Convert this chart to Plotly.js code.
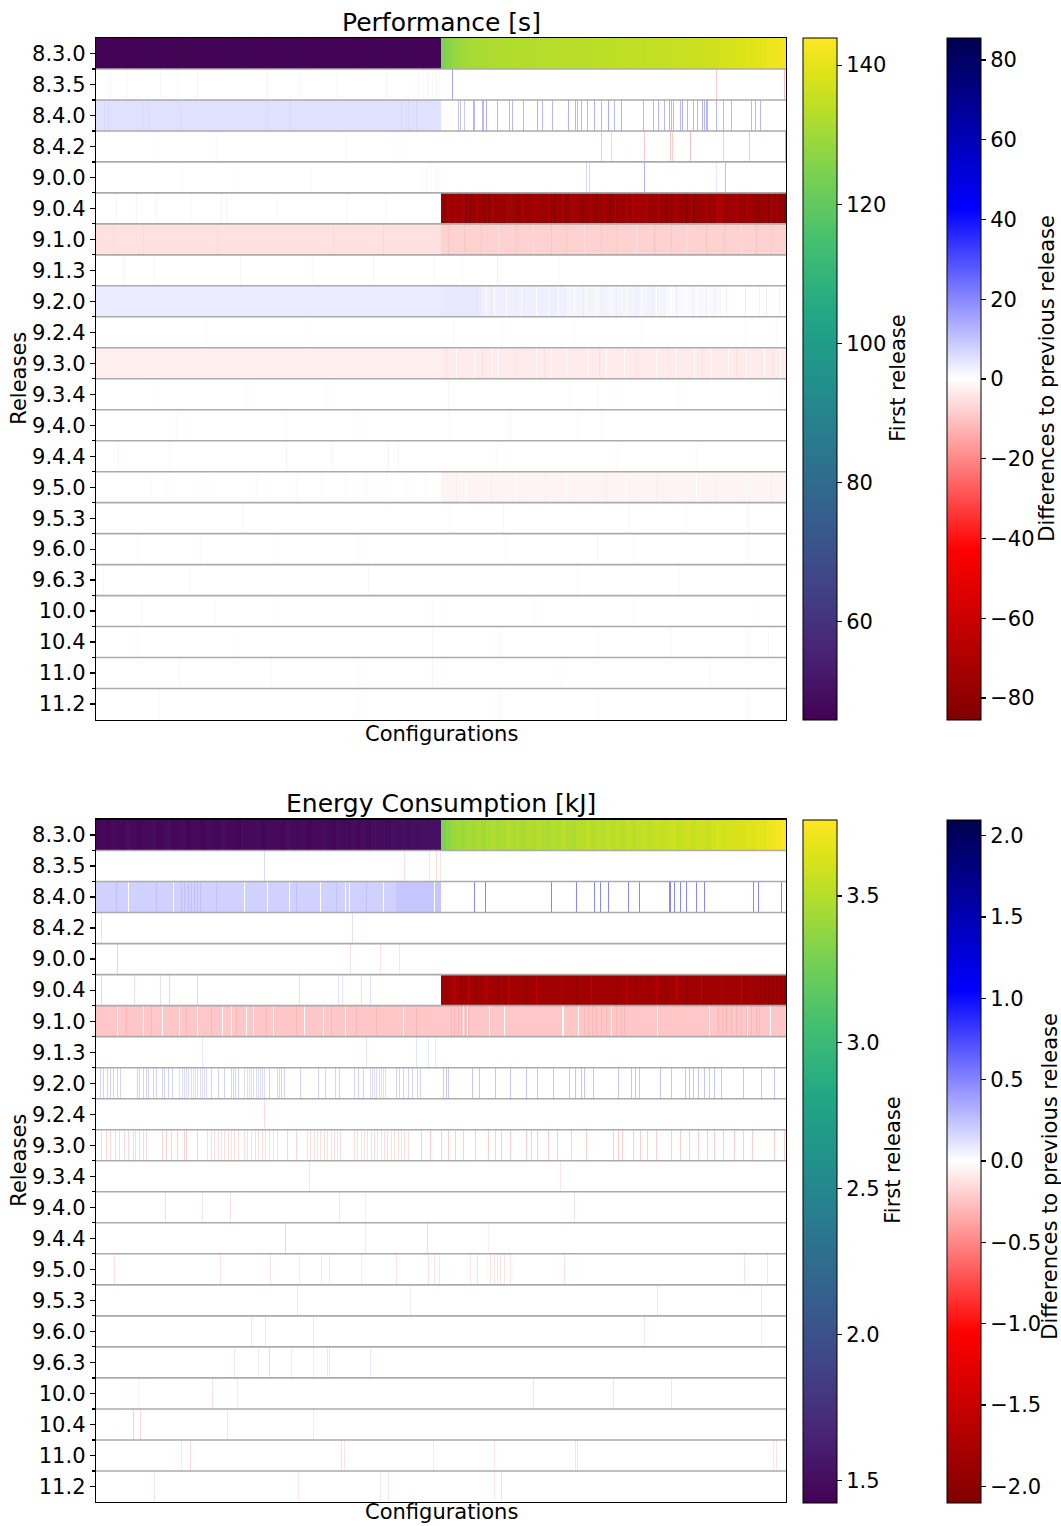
<!DOCTYPE html>
<html>
<head>
<meta charset="utf-8">
<script src="https://cdn.plot.ly/plotly-3.0.1.min.js"></script>
<style>
  html, body { margin: 0; padding: 0; background: #ffffff; }
  #chart { width: 1061px; height: 1526px; }
</style>
</head>
<body>
<div id="chart"></div>
<script>
// Releases, top to bottom
const releases = ['8.3.0','8.3.5','8.4.0','8.4.2','9.0.0','9.0.4','9.1.0','9.1.3','9.2.0','9.2.4',
  '9.3.0','9.3.4','9.4.0','9.4.4','9.5.0','9.5.3','9.6.0','9.6.3','10.0','10.4','11.0','11.2'];

const nConfigs = 690;      // configurations on the x axis
const groupSize = 5;       // first-release row: one value per group of configurations

// First release: performance [s], left and right halves of the configurations
const perfFirstLeft = [46.6,46.4,46.7,46.5,46.6,46.8,46.5,46.6,46.4,46.7,
  46.6,46.5,46.8,46.6,46.5,46.7,46.6,46.4,46.6,46.7,
  46.5,46.6,46.8,46.6,46.5,46.7,46.6,46.5,46.6,46.8,
  46.6,46.5,46.7,46.6,46.4,46.6,46.7,46.5,46.6,46.8,
  46.6,46.5,46.7,46.6,46.5,46.6,46.8,46.6,46.5,46.7,
  46.6,46.4,46.6,46.7,46.5,46.6,46.8,46.6,46.5,46.7,
  46.6,46.5,46.7,46.6,46.8,46.6,46.5,46.7,46.6];
const perfFirstRight = [124.5,126.5,128.0,129.0,129.8,130.3,130.7,131.0,131.3,131.6,
  131.8,132.0,132.1,132.2,132.3,132.4,132.5,132.6,132.7,132.8,
  132.9,133.0,133.1,133.2,133.3,133.4,133.5,133.5,133.6,133.7,
  133.8,133.9,134.0,134.0,134.1,134.2,134.3,134.4,134.5,134.6,
  134.7,134.8,134.9,135.0,135.1,135.3,135.4,135.5,135.7,135.8,
  136.0,136.1,136.3,136.4,136.6,137.0,137.3,137.6,137.9,138.3,
  138.6,139.0,139.4,139.9,140.4,140.9,141.5,142.0,142.6];

// First release: energy consumption [kJ]
const energyFirstLeft = [1.46,1.48,1.45,1.49,1.47,1.46,1.50,1.47,1.45,1.48,
  1.47,1.49,1.46,1.48,1.50,1.46,1.47,1.49,1.45,1.48,
  1.47,1.46,1.49,1.48,1.46,1.50,1.47,1.48,1.46,1.49,
  1.47,1.48,1.50,1.46,1.49,1.47,1.48,1.46,1.50,1.48,
  1.47,1.49,1.46,1.48,1.47,1.50,1.48,1.46,1.49,1.47,
  1.48,1.50,1.47,1.49,1.48,1.51,1.49,1.50,1.48,1.51,
  1.50,1.52,1.49,1.51,1.50,1.52,1.51,1.53,1.52];
const energyFirstRight = [3.30,3.36,3.40,3.43,3.41,3.45,3.44,3.47,3.43,3.46,
  3.48,3.45,3.47,3.50,3.46,3.48,3.45,3.49,3.47,3.51,
  3.48,3.46,3.50,3.48,3.52,3.49,3.47,3.51,3.50,3.53,
  3.49,3.52,3.50,3.54,3.51,3.53,3.50,3.55,3.52,3.54,
  3.56,3.53,3.55,3.57,3.54,3.56,3.58,3.55,3.57,3.59,
  3.56,3.58,3.60,3.57,3.59,3.61,3.60,3.62,3.61,3.63,
  3.62,3.65,3.64,3.67,3.66,3.69,3.71,3.74,3.76];

// Differences to previous release (releases 8.3.5 .. 11.2).
// Bands: [firstConfig, endConfig (exclusive), value]; later bands override earlier ones.
// Lines: [config, value] for single configurations.
const perfBands = [
  [],
  [[0,345,5.2]],
  [],
  [],
  [[345,690,-76]],
  [[0,345,-5.0],[345,690,-7.6]],
  [],
  [[0,345,3.3],[345,385,3.8],[385,470,2.6],[470,570,1.8],[570,625,1.0]],
  [],
  [[0,345,-2.6],[345,690,-3.4]],
  [], [], [],
  [[345,690,-1.8]],
  [], [], [], [], [], [], []
];
const perfLines = [
  [[14,1.5],[31,1.2],[64,1.5],[81,1.2],[101,1.5],[171,1.8],[204,1.2],[240,1.2],[290,1.5],
   [322,-1.5],[327,-1.5],[331,-1.8],[336,-1.5],[340,-1.8],[343,-1.5],[356,15],[620,-9],[688,-12]],
  [[8,6.5],[12,6.3],[46,6.5],[52,6.3],[84,6.4],[171,6.5],[194,6.3],[305,6.5],[312,6.4],[320,6.5],
   [362,10],[364,10],[368,9],[377,12],[378,12],[386,12],[387,12],[390,13],[401,12],[413,12],[416,12],[427,12],
   [441,13],[446,12],[456,12],[472,13],[479,12],[481,12],[485,12],[491,12],[498,13],[505,12],[512,14],[518,12],
   [525,13],[547,12],[557,12],[562,12],[568,12],[573,13],[575,12],[577,12],[584,12],[586,13],[591,12],[597,12],
   [601,12],[606,13],[608,12],[610,12],[611,13],[620,12],[627,12],[635,12],[655,12],[659,12],[664,12]],
  [[60,1],[120,-1],[250,1.2],[300,-1],[505,-10],[515,-8],[548,-9],[574,-10],[576,-8],[594,-11],[627,-9],[653,-10],[689,12]],
  [[85,-1],[140,1],[215,-1.2],[326,-1.2],[331,-1.5],[335,-1.2],[339,-1.5],[342,-1.2],
   [490,7],[493,-8],[548,13],[620,4],[629,11]],
  [[20,1.5],[40,1.8],[60,1.5],[95,1.2],[125,1.8],[130,1.5],[180,1.2],[250,1.5],[290,1.2],
   [352,-70],[358,-70],[366,-70],[380,-70],[396,-70],[411,-69],[413,-70],[415,-69],[417,-70],[426,-70],
   [438,-70],[452,-70],[466,-70],[475,-69],[477,-70],[479,-69],[481,-70],[495,-70],[508,-70],[519,-70],
   [530,-70],[536,-69],[539,-70],[542,-69],[545,-70],[548,-69],[551,-70],[562,-70],[580,-70],[595,-70],
   [610,-70],[620,-69],[622,-70],[624,-69],[626,-70],[640,-70],[650,-70],[675,-70],
   [348,-83],[361,-83],[370,-84],[374,-83],[383,-84],[388,-83],[392,-84],[399,-83],[405,-83],[422,-83],
   [433,-84],[445,-83],[458,-83],[470,-84],[486,-83],[500,-83],[514,-84],[525,-83],[557,-83],[570,-84],
   [575,-83],[585,-84],[590,-83],[598,-84],[603,-83],[615,-83],[633,-84],[645,-83],[657,-84],[662,-83],
   [667,-85],[672,-83],[679,-84],[684,-83],[688,-84]],
  [[17,-6.5],[47,-6.5],[121,-6.8],[237,-6.5],[287,-6.8],[352,-10],[368,-9.5],[385,-10],[402,-5.5],[420,-9.8],
   [437,-5],[455,-10],[470,-9.5],[488,-5.5],[505,-10],[520,-9],[540,-5],[558,-10.5],[575,-9.5],[590,-5.5],
   [610,-10],[628,-9.5],[645,-5],[660,-10],[675,-9.5]],
  [[27,1.5],[58,1.2],[144,1.5],[216,1.2],[277,1.5],[338,1.2],[366,1.2],[401,-4],[463,-1.5]],
  [[390,0.5],[398,0.5],[410,0.3],[425,0.5],[440,0.4],[452,0.5],[462,0.3],[478,0.3],[490,0.2],[500,0.4],
   [515,0.3],[530,0.2],[545,0.3],[560,0.2],[575,0.2],[590,0.3],[600,0.2],[612,0.3],
   [380,4.5],[395,4],[420,3.5],[487,3.5],[505,3.2],[520,3],[540,3.2],[556,3],[580,2.8],[597,2.6],[610,3],
   [618,2.8],[630,2.5],[649,3.5],[663,2.5],[670,3],[683,2.5]],
  [[109,1],[211,1],[357,-1.5],[406,-1.5],[477,-1.2],[545,-1.5],[649,-1.2],[680,-1.5]],
  [[360,-0.5],[378,-0.8],[395,-0.5],[402,-0.3],[440,-0.6],[455,-0.5],[470,-0.7],[491,-0.4],[510,-0.5],
   [528,-0.4],[560,-0.6],[580,-0.5],[598,-0.3],[615,-0.6],[632,-0.4],[650,-0.5],[668,-0.3],[684,-0.5],
   [350,-5],[386,-5.5],[420,-4.8],[448,-5],[503,-5.2],[540,-5],[572,-4.8],[606,-5],[640,-5.2],[676,-4.8]],
  [[60,1],[150,-1],[230,1],[352,1.8],[473,-1.5],[501,-1.5],[516,-1.2],[582,-1.5],[686,-1.5]],
  [[80,-1],[190,1],[260,-1],[353,1.5],[414,1.5],[481,-1.5],[505,-1.8]],
  [[22,1.5],[73,1.5],[190,1.8],[236,1.5],[292,1.8],[302,1.5],[400,-1],[520,-1.2],[600,-1]],
  [[55,-1],[70,-1.2],[110,-1],[160,-1.2],[200,-1.5],[225,-1.2],[250,-1.5],[270,-1.2],[290,-1.5],[310,-1.2],
   [330,-1.5],[370,-0.3],[420,-0.5],[470,-0.3],[530,-0.4],[600,-0.3],[650,-0.4],
   [360,-3.2],[395,-3],[450,-3.2],[510,-3],[560,-3.2],[620,-3],[675,-3.2]],
  [[147,1.2],[353,1.2],[407,1.5],[532,1.2],[590,1.2],[652,1.5]],
  [[42,1],[104,1.2],[180,1],[262,1.2],[409,1],[501,1.5],[537,1.2],[652,-1.5]],
  [[7,1.5],[93,1.2],[272,1.5],[481,1.2],[583,1.2]],
  [[45,1.2],[119,-1],[180,1],[336,-1.2],[438,-1.5],[537,1.2],[659,-1]],
  [[40,-1.2],[139,1],[336,1.5],[404,-1.5],[501,-1.2],[575,-1.5],[652,1.2],[672,1]],
  [[83,-1.5],[175,-1.2],[262,-1.5],[336,-1.8],[466,-1.2],[613,-1.5]],
  [[63,1.2],[262,-1.2],[404,-1.5],[501,1],[652,1.2]]
];

const energyBands = [
  [],
  [[0,345,0.19],[300,345,0.24]],
  [],
  [],
  [[345,690,-1.82]],
  [[0,690,-0.23]],
  [], [], [], [], [], [], [], [], [], [], [], [], [], [], []
];
const energyLines = [
  [[168,0.15],[308,-0.12],[333,-0.12],[340,-0.15],[344,-0.12]],
  [[32,0],[77,0],[148,0],[171,0],[193,0],[224,0],[249,0],[253,0],[287,0],[338,0],
   [20,0.26],[60,0.26],[85,0.26],[88,0.25],[92,0.26],[95,0.25],[98,0.26],[101,0.25],[104,0.26],[120,0.25],
   [200,0.26],[240,0.25],[270,0.26],
   [378,0.5],[389,0.5],[455,0.5],[480,0.5],[498,0.5],[504,0.5],[512,0.5],[532,0.5],[543,0.5],[573,0.5],
   [574,0.5],[578,0.5],[584,0.5],[590,0.5],[600,0.5],[608,0.5],[657,0.5],[662,0.5],[685,0.5]],
  [[5,0.12],[256,0.12]],
  [[21,-0.2],[254,-0.12],[284,-0.12],[303,-0.12]],
  [[5,0.15],[38,0.12],[64,0.12],[73,0.15],[101,0.15],[203,0.12],[242,0.12],[246,0.1],[265,0.12],[274,0.12],
   [358,-1.62],[372,-1.62],[390,-1.62],[412,-1.62],[440,-1.62],[465,-1.62],[495,-1.62],[530,-1.62],[560,-1.62],
   [580,-1.62],[605,-1.62],[625,-1.62],[645,-1.62],
   [350,-1.97],[365,-1.97],[380,-1.97],[402,-1.97],[430,-1.97],[455,-1.97],[480,-1.97],[520,-1.97],[545,-1.97],
   [570,-1.97],[590,-1.97],[615,-1.97],[635,-1.97],[650,-1.97],[660,-1.97],[664,-1.97],[668,-1.97],[672,-1.97],
   [676,-1.97],[680,-1.97],[684,-1.97],[688,-1.97]],
  [[21,0],[47,0],[66,0],[83,0],[101,0],[126,0],[135,0],[150,0],[157,0],[177,0],[208,0],[227,0],[249,0],
   [307,0],[367,0],[371,0],[393,0],[408,0],[466,0],[467,0],[482,0],[515,0],[561,0],[613,0],[651,0],[674,0],
   [30,-0.3],[55,-0.3],[90,-0.3],[115,-0.3],[140,-0.3],[170,-0.3],[200,-0.3],[235,-0.3],[260,-0.3],[280,-0.3],
   [320,-0.3],[355,-0.3],[358,-0.3],[362,-0.3],[365,-0.3],[369,-0.3],[372,-0.3],[488,-0.3],[492,-0.3],
   [496,-0.3],[500,-0.3],[505,-0.3],[510,-0.3],[520,-0.3],[525,-0.3],[528,-0.3],[622,-0.3],[626,-0.3],
   [630,-0.3],[635,-0.3],[640,-0.3],[645,-0.3],[650,-0.3],[655,-0.3],[660,-0.3],[663,-0.3]],
  [[106,0.1],[270,0.1],[320,0.12],[332,0.1],[339,0.1]],
  [[4,0.18],[7,0.18],[11,0.18],[14,0.18],[17,0.18],[21,0.18],[24,0.18],[41,0.18],[43,0.18],[47,0.18],
   [50,0.18],[52,0.18],[57,0.18],[60,0.18],[66,0.18],[68,0.18],[72,0.18],[76,0.18],
   [83,0.14],[86,0.14],[88,0.14],[90,0.14],[92,0.14],[95,0.14],[97,0.14],[99,0.14],[101,0.14],[104,0.14],
   [106,0.14],[108,0.14],[110,0.14],[115,0.18],[122,0.18],[128,0.18],[135,0.18],[137,0.18],[139,0.18],[142,0.18],
   [148,0.14],[151,0.14],[153,0.14],[155,0.14],[157,0.14],[160,0.14],[162,0.14],[164,0.14],[166,0.14],[168,0.14],
   [173,0.18],[181,0.18],[183,0.18],[185,0.18],[188,0.18],[204,0.18],[222,0.18],[229,0.18],[239,0.18],[243,0.18],
   [258,0.18],[262,0.18],[267,0.18],
   [274,0.14],[276,0.14],[278,0.14],[280,0.14],[283,0.14],[285,0.14],[287,0.14],[289,0.14],
   [300,0.18],[303,0.18],[307,0.18],[312,0.18],[316,0.18],[321,0.18],[324,0.18],[347,0.22],[350,0.22],[352,0.22],
   [376,0.24],[383,0.24],[399,0.24],[414,0.24],[430,0.24],[441,0.24],[457,0.24],[473,0.24],[479,0.24],[485,0.24],
   [488,0.24],[497,0.24],[522,0.24],[535,0.24],[539,0.24],[543,0.24],[564,0.24],[575,0.24],[589,0.24],[593,0.24],
   [597,0.24],[602,0.24],[608,0.24],[613,0.24],[618,0.24],[625,0.24],[647,0.24],[665,0.24],[678,0.24]],
  [[168,-0.15]],
  [[5,-0.16],[10,-0.16],[14,-0.16],[19,-0.16],[23,-0.16],[28,-0.16],[32,-0.16],[37,-0.16],[39,-0.16],[43,-0.16],
   [47,-0.16],[50,-0.16],[66,-0.18],[70,-0.18],[75,-0.18],[81,-0.18],[88,-0.18],[90,-0.18],[101,-0.18],
   [111,-0.14],[115,-0.14],[118,-0.14],[122,-0.14],[125,-0.14],[128,-0.14],[132,-0.14],[135,-0.14],[138,-0.14],[142,-0.14],
   [148,-0.14],[151,-0.14],[155,-0.14],[159,-0.14],[162,-0.14],[166,-0.14],[169,-0.14],[173,-0.14],[177,-0.14],[181,-0.14],
   [191,-0.18],[200,-0.18],
   [211,-0.14],[214,-0.14],[218,-0.14],[221,-0.14],[224,-0.14],[228,-0.14],[231,-0.14],[235,-0.14],[238,-0.14],[241,-0.14],[244,-0.14],
   [258,-0.14],[261,-0.14],[265,-0.14],[268,-0.14],[271,-0.14],[275,-0.14],[278,-0.14],[281,-0.14],[285,-0.14],[288,-0.14],
   [291,-0.14],[295,-0.14],[298,-0.14],[302,-0.14],[305,-0.14],[308,-0.14],[312,-0.14],
   [325,-0.2],[334,-0.2],[345,-0.2],[352,-0.2],[359,-0.2],[367,-0.2],[379,-0.2],[392,-0.2],[399,-0.2],[405,-0.2],
   [414,-0.2],[430,-0.2],[435,-0.2],[441,-0.2],[452,-0.2],[461,-0.2],[475,-0.2],[490,-0.2],[517,-0.2],[522,-0.2],
   [526,-0.2],[537,-0.2],[544,-0.2],[551,-0.2],[560,-0.2],[575,-0.2],[584,-0.2],[593,-0.2],[602,-0.2],[611,-0.2],
   [618,-0.2],[627,-0.2],[638,-0.2],[647,-0.2],[656,-0.2],[678,-0.2],[688,-0.2]],
  [[213,0.1],[464,-0.1]],
  [[69,-0.15],[106,0.1],[134,-0.12],[243,-0.12],[269,-0.08],[478,0.1]],
  [[189,0.15],[269,0.08],[331,0.15],[392,-0.06]],
  [[18,-0.12],[124,-0.12],[174,-0.12],[203,-0.1],[225,-0.12],[233,-0.12],[265,-0.1],[300,-0.12],[332,-0.12],
   [338,-0.12],[343,-0.12],[374,-0.1],[381,-0.12],[394,-0.12],[398,-0.12],[401,-0.12],[404,-0.12],[408,-0.12],
   [414,-0.12],[468,-0.12],[648,-0.12],[671,-0.12]],
  [[201,-0.12],[314,0.08],[561,-0.12],[665,-0.12]],
  [[155,-0.12],[169,0.1],[217,-0.12],[548,0.1],[665,0.06]],
  [[138,0.1],[162,0.08],[173,0.12],[195,0.08],[217,0.08],[231,0.1],[233,0.1],[274,0.1]],
  [[42,-0.06],[116,-0.12],[141,-0.1],[437,-0.12],[517,0.1],[575,0.1]],
  [[37,0.15],[44,-0.15],[131,0.1],[217,-0.1]],
  [[85,-0.12],[94,-0.15],[245,-0.15],[248,-0.12],[337,-0.1],[398,-0.1],[479,-0.12],[481,-0.12],[677,-0.12],[680,-0.12]],
  [[58,0.1],[202,-0.1],[284,0.08],[292,0.1],[398,-0.1],[405,-0.12]]
];

// Colour scales
const viridis = [
  [0.0,'#440154'],[0.1,'#482475'],[0.2,'#414487'],[0.3,'#355f8d'],[0.4,'#2a788e'],[0.5,'#21918c'],
  [0.6,'#22a884'],[0.7,'#44bf70'],[0.8,'#7ad151'],[0.9,'#bddf26'],[0.95,'#dfe318'],[1.0,'#fde725']
];
const seismicReversed = [
  [0.0,'rgb(128,0,0)'],[0.25,'rgb(255,0,0)'],[0.5,'rgb(255,255,255)'],[0.75,'rgb(0,0,255)'],[1.0,'rgb(0,0,77)']
];

// Build the difference matrix for one panel (one row per release after the first)
function diffMatrix(bands, lines) {
  return bands.map((rowBands, i) => {
    const row = new Array(nConfigs).fill(0);
    rowBands.forEach(([a, b, v]) => { for (let c = a; c < b; c++) row[c] = v; });
    lines[i].forEach(([c, v]) => { row[c] = v; });
    return row;
  });
}

const groupEdges = Array.from({length: nConfigs / groupSize + 1}, (_, k) => k * groupSize);
const diffRows = releases.slice(1).map((_, i) => i + 1);

const FONT = 'DejaVu Sans, Verdana, sans-serif';
const W = 1061, H = 1526;
const px = v => v / W;
const py = v => 1 - v / H;

const xDomain = [px(96), px(786)];
const panels = [
  {top: 38, bottom: 719.5, title: 'Performance [s]', labelY: 734, diffLabelX: 1047, diffLabelShift: 0,
   first: perfFirstLeft.concat(perfFirstRight), diff: diffMatrix(perfBands, perfLines),
   vmin: 45.9, vmax: 143.9, vTicks: [60, 80, 100, 120, 140], vFormat: '',
   dmax: 85.5, dTicks: [-80, -60, -40, -20, 0, 20, 40, 60, 80], dFormat: ''},
  {top: 819.5, bottom: 1502, title: 'Energy Consumption [kJ]', labelY: 1512, diffLabelX: 1050, diffLabelShift: 16,
   first: energyFirstLeft.concat(energyFirstRight), diff: diffMatrix(energyBands, energyLines),
   vmin: 1.425, vmax: 3.762, vTicks: [1.5, 2.0, 2.5, 3.0, 3.5], vFormat: '.1f',
   dmax: 2.1, dTicks: [-2, -1.5, -1, -0.5, 0, 0.5, 1, 1.5, 2], dFormat: '.1f'}
];

const data = [];
const layout = {
  width: W, height: H,
  margin: {l: 0, r: 0, t: 0, b: 0, pad: 0, autoexpand: false},
  paper_bgcolor: '#ffffff', plot_bgcolor: '#ffffff',
  font: {family: FONT, size: 21, color: '#000000'},
  showlegend: false,
  annotations: [], shapes: []
};

const boundaries = releases.slice(1).map((_, i) => i + 0.5);

panels.forEach((p, k) => {
  const xa = k === 0 ? 'x' : 'x2';
  const ya = k === 0 ? 'y' : 'y2';
  const caFirst = k === 0 ? 'coloraxis' : 'coloraxis3';
  const caDiff = k === 0 ? 'coloraxis2' : 'coloraxis4';
  const yDom = [py(p.bottom), py(p.top)];
  const lenFrac = (p.bottom - p.top) / H;

  data.push({
    type: 'heatmap', xaxis: xa, yaxis: ya, coloraxis: caFirst,
    x: groupEdges, y0: 0, dy: 1, z: [p.first], hoverinfo: 'skip'
  });
  data.push({
    type: 'heatmap', xaxis: xa, yaxis: ya, coloraxis: caDiff,
    x0: 0.5, dx: 1, y: diffRows, z: p.diff, hoverinfo: 'skip'
  });

  const axKeyX = k === 0 ? 'xaxis' : 'xaxis2';
  const axKeyY = k === 0 ? 'yaxis' : 'yaxis2';
  layout[axKeyX] = {
    domain: xDomain, anchor: ya, range: [0, nConfigs],
    showticklabels: false, ticks: '', showgrid: false, zeroline: false,
    showline: true, mirror: true, linecolor: '#000000', linewidth: 1.3, fixedrange: true
  };
  layout[axKeyY] = {
    domain: yDom, anchor: xa, range: [releases.length - 0.5, -0.5],
    tickmode: 'array', tickvals: releases.map((_, i) => i), ticktext: releases,
    ticks: 'outside', ticklen: 5, tickwidth: 1.2, tickcolor: '#000000',
    tickfont: {family: FONT, size: 21, color: '#000000'},
    minor: {tickmode: 'array', tickvals: boundaries, ticks: 'outside', ticklen: 3, tickwidth: 1.2, tickcolor: '#000000'},
    showgrid: false, zeroline: false,
    showline: true, mirror: true, linecolor: '#000000', linewidth: 1.3, fixedrange: true
  };

  const cbCommon = {
    y: py(p.top), yanchor: 'top', len: lenFrac, lenmode: 'fraction',
    thickness: 34, thicknessmode: 'pixels', xanchor: 'left', xpad: 0, ypad: 0,
    outlinewidth: 1, outlinecolor: '#000000',
    ticks: 'outside', ticklen: 5, tickwidth: 1.2, tickcolor: '#000000',
    tickfont: {family: FONT, size: 21, color: '#000000'}, tickmode: 'array'
  };
  layout[caFirst] = {
    cmin: p.vmin, cmax: p.vmax, colorscale: viridis,
    colorbar: Object.assign({}, cbCommon, {x: px(803), tickvals: p.vTicks, tickformat: p.vFormat})
  };
  layout[caDiff] = {
    cmin: -p.dmax, cmax: p.dmax, colorscale: seismicReversed,
    colorbar: Object.assign({}, cbCommon, {x: px(947), tickvals: p.dTicks, tickformat: p.dFormat})
  };

  const midY = (p.top + p.bottom) / 2;
  layout.annotations.push(
    {text: p.title, xref: 'paper', yref: 'paper', x: px(441), y: py(p.top - 16), xanchor: 'center', yanchor: 'middle',
     showarrow: false, font: {family: FONT, size: 25, color: '#000000'}},
    {text: 'Configurations', xref: 'paper', yref: 'paper', x: px(441), y: py(p.labelY), xanchor: 'center', yanchor: 'middle',
     showarrow: false, font: {family: FONT, size: 21, color: '#000000'}},
    {text: 'Releases', xref: 'paper', yref: 'paper', x: px(19), y: py(midY), xanchor: 'center', yanchor: 'middle',
     textangle: -90, showarrow: false, font: {family: FONT, size: 21, color: '#000000'}},
    {text: 'First release', xref: 'paper', yref: 'paper', x: px(k === 0 ? 898 : 893), y: py(midY), xanchor: 'center', yanchor: 'middle',
     textangle: -90, showarrow: false, font: {family: FONT, size: 21, color: '#000000'}},
    {text: 'Differences to previous release', xref: 'paper', yref: 'paper', x: px(p.diffLabelX), y: py(midY + p.diffLabelShift),
     xanchor: 'center', yanchor: 'middle', textangle: -90, showarrow: false, font: {family: FONT, size: 21, color: '#000000'}}
  );

  // grey separators between release rows
  boundaries.forEach(b => {
    layout.shapes.push({type: 'line', xref: 'paper', yref: ya, x0: xDomain[0], x1: xDomain[1], y0: b, y1: b,
      line: {color: '#ababab', width: 1.6}, layer: 'above'});
  });
});

Plotly.newPlot('chart', data, layout, {displayModeBar: false, staticPlot: true});
</script>
</body>
</html>
